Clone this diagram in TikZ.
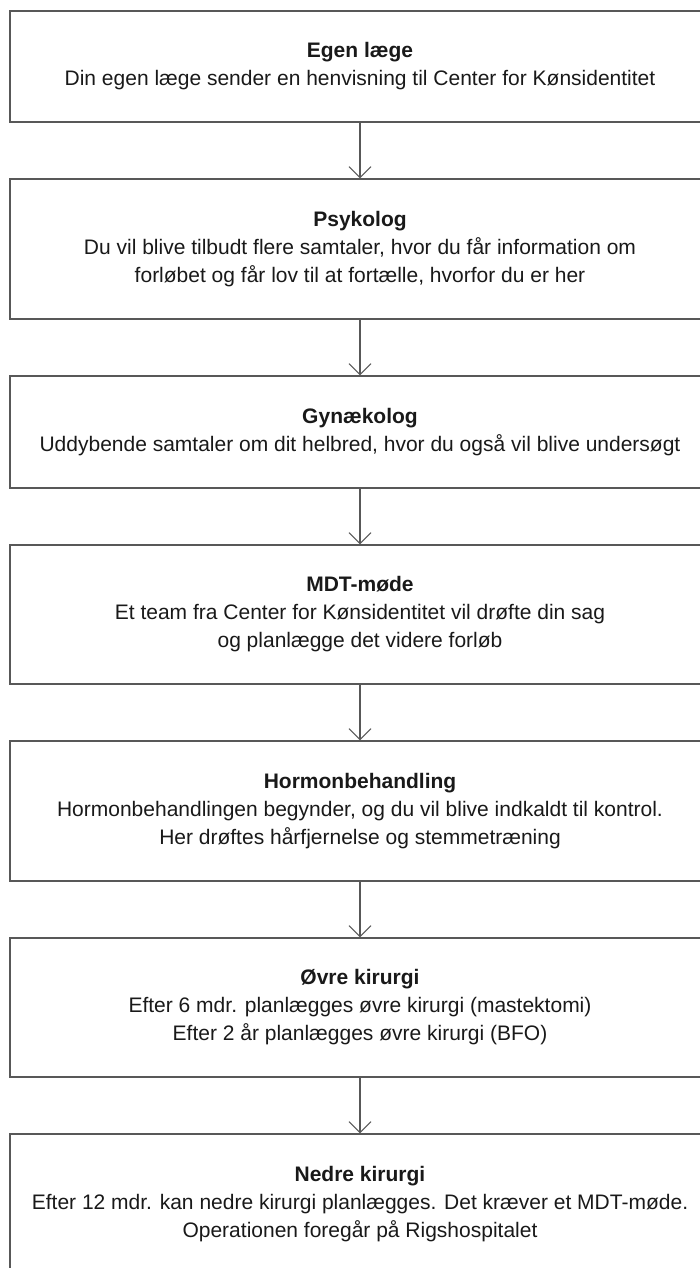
\documentclass[tikz,border=0pt]{standalone}
\usepackage{fontspec}
\setmainfont{Liberation Sans}
\usetikzlibrary{arrows.meta}
\definecolor{edge}{RGB}{88,88,88}
\definecolor{ink}{RGB}{25,25,25}
\tikzset{
  stepbox/.style={draw=edge, line width=1.1pt, rectangle, minimum width=700pt, inner sep=0pt,
    align=center, text=ink, font=\fontsize{21}{28}\selectfont},
  flow/.style={draw=edge, line width=1.1pt, -{Straight Barb[length=11pt,width=22pt]}}
}
\begin{document}
\begin{tikzpicture}
\useasboundingbox (0pt,0pt) rectangle (699pt,-1268pt);
\node[stepbox, minimum height=111pt] (b1) at (360pt,-66.5pt)
  {\textbf{Egen læge}\\Din egen læge sender en henvisning til Center for Kønsidentitet};
\node[stepbox, minimum height=140pt] (b2) at (360pt,-249pt)
  {\textbf{Psykolog}\\Du vil blive tilbudt flere samtaler, hvor du får information om\\forløbet og får lov til at fortælle, hvorfor du er her};
\node[stepbox, minimum height=112pt] (b3) at (360pt,-432pt)
  {\textbf{Gynækolog}\\Uddybende samtaler om dit helbred, hvor du også vil blive undersøgt};
\node[stepbox, minimum height=139pt] (b4) at (360pt,-614.5pt)
  {\textbf{MDT-møde}\\Et team fra Center for Kønsidentitet vil drøfte din sag\\og planlægge det videre forløb};
\node[stepbox, minimum height=140pt] (b5) at (360pt,-811pt)
  {\textbf{Hormonbehandling}\\Hormonbehandlingen begynder, og du vil blive indkaldt til kontrol.\\Her drøftes hårfjernelse og stemmetræning};
\node[stepbox, minimum height=139pt] (b6) at (360pt,-1007.5pt)
  {\textbf{Øvre kirurgi}\\Efter 6 mdr. planlægges øvre kirurgi (mastektomi)\\Efter 2 år planlægges øvre kirurgi (BFO)};
\node[stepbox, minimum height=140pt] (b7) at (360pt,-1204pt)
  {\textbf{Nedre kirurgi}\\Efter 12 mdr. kan nedre kirurgi planlægges. Det kræver et MDT-møde.\\Operationen foregår på Rigshospitalet};
\draw[flow] (b1) -- (b2);
\draw[flow] (b2) -- (b3);
\draw[flow] (b3) -- (b4);
\draw[flow] (b4) -- (b5);
\draw[flow] (b5) -- (b6);
\draw[flow] (b6) -- (b7);
\end{tikzpicture}
\end{document}
